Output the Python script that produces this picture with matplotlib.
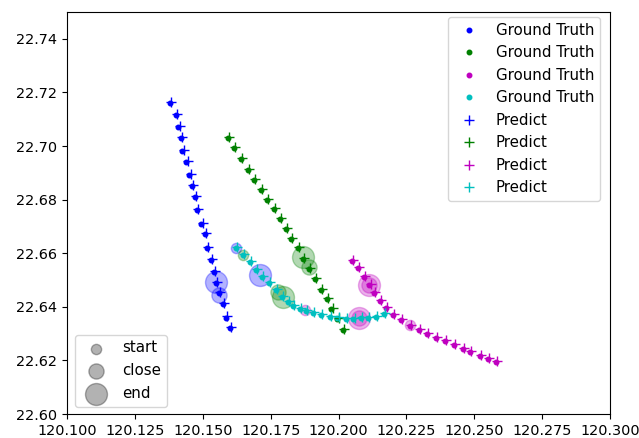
import numpy as np
import matplotlib
matplotlib.use('Agg')
import matplotlib.pyplot as plt

plt.rcParams['font.size'] = 10.8
plt.rcParams['xtick.labelsize'] = 10.4
plt.rcParams['ytick.labelsize'] = 10.4

# ground truth tracks (lon, lat)
blue_lon = [120.138, 120.140, 120.141, 120.142, 120.1425, 120.144, 120.145, 120.146, 120.147, 120.148,
            120.1495, 120.151, 120.1515, 120.153, 120.154, 120.155, 120.156, 120.1575, 120.1585, 120.160]
blue_lat = [22.716, 22.7116, 22.707, 22.703, 22.698, 22.694, 22.689, 22.685, 22.681, 22.676,
            22.671, 22.667, 22.662, 22.6575, 22.653, 22.649, 22.645, 22.641, 22.636, 22.632]

green_lon = [120.1593, 120.1615, 120.1641, 120.1667, 120.1689, 120.1714, 120.1736, 120.1762, 120.1784, 120.1806,
             120.1824, 120.1850, 120.1868, 120.1890, 120.1912, 120.1934, 120.1956, 120.1974, 120.1996, 120.2018]
green_lat = [22.703, 22.6993, 22.6951, 22.691, 22.6873, 22.6836, 22.6799, 22.6765, 22.6728, 22.669,
             22.6653, 22.6619, 22.6578, 22.6541, 22.6504, 22.6463, 22.6429, 22.6392, 22.6354, 22.6313]

mag_lon = [120.2051, 120.2073, 120.2095, 120.2114, 120.2132, 120.2154, 120.2176, 120.2201, 120.2231, 120.2264,
           120.2297, 120.2326, 120.2359, 120.2392, 120.2425, 120.2458, 120.2484, 120.2520, 120.2549, 120.2579]
mag_lat = [22.6571, 22.6545, 22.6511, 22.6481, 22.6451, 22.6422, 22.6396, 22.6369, 22.6351, 22.6328,
           22.6313, 22.6299, 22.6284, 22.6272, 22.6257, 22.6243, 22.6231, 22.6216, 22.6205, 22.6194]

cyan_lon = [120.1623, 120.1648, 120.1674, 120.1696, 120.1718, 120.1744, 120.1769, 120.1791, 120.1813, 120.1832, 120.1857,
            120.1879, 120.1905, 120.1934, 120.1967, 120.1996, 120.2026, 120.2055, 120.2084, 120.2110, 120.2139, 120.2168]
cyan_lat = [22.6619, 22.6593, 22.6567, 22.6537, 22.6511, 22.6489, 22.6463, 22.6437, 22.6418, 22.6403, 22.6392,
            22.6384, 22.6377, 22.6369, 22.6362, 22.6358, 22.6354, 22.6354, 22.6358, 22.6358, 22.6362, 22.6373]

# predicted tracks
blue_plon = [120.1384, 120.1404, 120.1415, 120.1425, 120.1430, 120.1444, 120.1455, 120.1463, 120.1475, 120.1484,
             120.1500, 120.1513, 120.1518, 120.1534, 120.1544, 120.1553, 120.1564, 120.1579, 120.1589, 120.1605]
blue_plat = [22.7165, 22.7120, 22.7074, 22.7034, 22.6984, 22.6943, 22.6894, 22.6854, 22.6814, 22.6765,
             22.6714, 22.6674, 22.6624, 22.6579, 22.6534, 22.6494, 22.6454, 22.6413, 22.6364, 22.6323]

green_plon = [120.1597, 120.1619, 120.1645, 120.1671, 120.1693, 120.1718, 120.1740, 120.1766, 120.1788, 120.1810,
              120.1828, 120.1854, 120.1872, 120.1894, 120.1916, 120.1938, 120.1960, 120.1978, 120.2000, 120.2022]
green_plat = [22.7034, 22.6997, 22.6955, 22.6914, 22.6877, 22.6840, 22.6803, 22.6769, 22.6732, 22.6694,
              22.6657, 22.6623, 22.6582, 22.6545, 22.6508, 22.6467, 22.6433, 22.6396, 22.6358, 22.6317]

mag_plon = [120.2055, 120.2077, 120.2099, 120.2118, 120.2136, 120.2158, 120.2180, 120.2205, 120.2235, 120.2268,
            120.2301, 120.2330, 120.2363, 120.2396, 120.2429, 120.2462, 120.2488, 120.2524, 120.2553, 120.2583]
mag_plat = [22.6575, 22.6549, 22.6515, 22.6485, 22.6455, 22.6426, 22.6400, 22.6373, 22.6355, 22.6332,
            22.6317, 22.6303, 22.6288, 22.6276, 22.6261, 22.6247, 22.6235, 22.6220, 22.6209, 22.6198]

cyan_plon = [120.1627, 120.1652, 120.1678, 120.1700, 120.1722, 120.1748, 120.1773, 120.1795, 120.1817, 120.1836, 120.1861,
             120.1883, 120.1909, 120.1938, 120.1971, 120.2000, 120.2030, 120.2059, 120.2088, 120.2114, 120.2143, 120.2172]
cyan_plat = [22.6623, 22.6597, 22.6571, 22.6541, 22.6515, 22.6493, 22.6467, 22.6441, 22.6422, 22.6407, 22.6396,
             22.6388, 22.6381, 22.6373, 22.6366, 22.6362, 22.6358, 22.6358, 22.6362, 22.6362, 22.6366, 22.6377]

# start / close / end circles
circ_lon = [120.1549, 120.1560, 120.1623, 120.1711, 120.1868, 120.1890, 120.1648, 120.1777, 120.1795,
            120.2114, 120.2114, 120.2264, 120.1875, 120.2077, 120.2077]
circ_lat = [22.6493, 22.6444, 22.6619, 22.6519, 22.6586, 22.6549, 22.6593, 22.6455, 22.6437,
            22.6481, 22.6481, 22.6332, 22.6388, 22.6358, 22.6358]
circ_kind = ['end', 'close', 'start', 'end', 'end', 'close', 'start', 'close', 'end',
             'end', 'close', 'start', 'start', 'end', 'close']
circ_color = ['b', 'b', 'b', 'b', 'g', 'g', 'g', 'g', 'g',
              'm', 'm', 'm', 'm', 'm', 'm']
kind_size = {'start': 55, 'close': 120, 'end': 250}

fig = plt.figure(figsize=(6.39, 4.38), dpi=100)
ax = fig.add_axes([67 / 639, 1 - 414 / 438, 543 / 639, 402 / 438])

gt = [(blue_lon, blue_lat, 'b'), (green_lon, green_lat, 'g'), (mag_lon, mag_lat, 'm'), (cyan_lon, cyan_lat, 'c')]
pr = [(blue_plon, blue_plat, 'b'), (green_plon, green_plat, 'g'), (mag_plon, mag_plat, 'm'), (cyan_plon, cyan_plat, 'c')]

for lon, lat, c in gt:
    ax.plot(lon, lat, '.', color=c, ms=6.5, label='Ground Truth')
for lon, lat, c in pr:
    ax.plot(lon, lat, '+', color=c, ms=6.5, label='Predict')

first = ax.legend(loc='upper right', bbox_to_anchor=(0.982, 0.988), borderaxespad=0)

for lon, lat, k, c in zip(circ_lon, circ_lat, circ_kind, circ_color):
    ax.scatter(lon, lat, s=kind_size[k], color=c, alpha=0.3)

handles = [ax.scatter([], [], s=kind_size[k], color='k', alpha=0.3, label=k)
           for k in ['start', 'close', 'end']]
ax.legend(handles=handles, loc='lower left', scatterpoints=1)
ax.add_artist(first)

ax.set_xlim(120.1, 120.3)
ax.set_ylim(22.60, 22.75)
ax.xaxis.set_major_formatter(matplotlib.ticker.FormatStrFormatter('%.3f'))
ax.yaxis.set_major_formatter(matplotlib.ticker.FormatStrFormatter('%.2f'))

fig.savefig('out.png', dpi=100)
